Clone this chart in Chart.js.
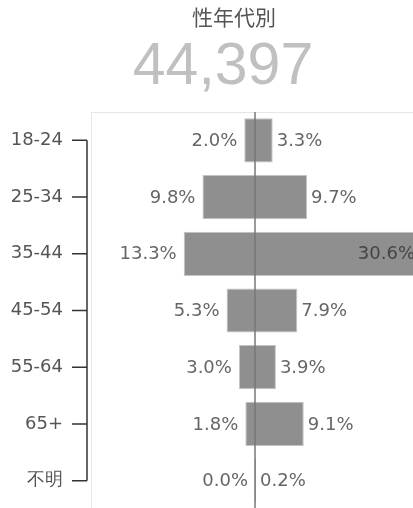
<!DOCTYPE html>
<html lang="ja">
<head>
<meta charset="utf-8">
<script src="https://cdn.jsdelivr.net/npm/chart.js@4"></script>
<style>
  html, body { margin: 0; padding: 0; background: #fff; overflow: hidden; width: 413px; height: 508px; }
  #wrap { position: absolute; left: 0; top: 0; width: 420px; height: 510px; }
  #title { position: absolute; left: 0; top: 6px; width: 468px; text-align: center;
    font-family: "Noto Sans CJK JP"; font-size: 21px; line-height: 21px; color: #555; }
  #total { position: absolute; left: 0; top: 35px; width: 446px; text-align: center;
    font-family: "Liberation Sans"; font-size: 59px; line-height: 59px; color: #c0c0c0; }
</style>
</head>
<body>
<div id="wrap"><canvas id="chartAge" width="420" height="510"></canvas></div>
<div id="title">性年代別</div>
<div id="total"></div>
<script>
// ====== DADOS ======
const ageGroups = ["18-24", "25-34", "35-44", "45-54", "55-64", "65+", "不明"];
const leftShare = [2.0, 9.8, 13.3, 5.3, 3.0, 1.8, 0.0];
const rightShare = [3.3, 9.7, 30.6, 7.9, 3.9, 9.1, 0.2];
const totalCount = 44397;

document.getElementById("total").textContent = totalCount.toLocaleString("en-US");

const maxShare = Math.max(...leftShare, ...rightShare);
const labelFont = '18px "DejaVu Sans"';

// eixo, moldura, linha central e rótulos
const decorPlugin = {
  id: "decor",
  beforeDatasetsDraw(chart) {
    const { ctx, chartArea: a } = chart;
    ctx.save();
    ctx.strokeStyle = "#e6e6e6";
    ctx.lineWidth = 1;
    ctx.strokeRect(a.left + 0.5, a.top + 0.5, a.right - a.left, a.bottom - a.top);
    ctx.restore();
  },
  afterDatasetsDraw(chart) {
    const { ctx, chartArea: a, scales } = chart;
    const x0 = scales.x.getPixelForValue(0);
    ctx.save();

    // linha central
    ctx.strokeStyle = "#777";
    ctx.lineWidth = 1.5;
    ctx.beginPath();
    ctx.moveTo(x0, a.top);
    ctx.lineTo(x0, chart.height);
    ctx.stroke();

    // eixo y
    const y = scales.y;
    const ax = a.left - 4;
    ctx.strokeStyle = "#333";
    ctx.beginPath();
    ctx.moveTo(ax, y.getPixelForTick(0));
    ctx.lineTo(ax, y.getPixelForTick(ageGroups.length - 1));
    ageGroups.forEach((_, i) => {
      const ty = y.getPixelForTick(i);
      ctx.moveTo(ax - 15, ty);
      ctx.lineTo(ax, ty);
    });
    ctx.stroke();

    // rótulos de valor
    ctx.font = labelFont;
    ctx.textBaseline = "middle";
    chart.data.datasets.forEach((ds, di) => {
      const meta = chart.getDatasetMeta(di);
      meta.data.forEach((bar, i) => {
        const v = Math.abs(ds.data[i]);
        const text = v.toFixed(1) + "%";
        const w = ctx.measureText(text).width;
        ctx.fillStyle = "#666";
        if (ds.data[i] <= 0 && di === 0) {
          ctx.textAlign = "right";
          ctx.fillText(text, bar.x - 7, bar.y + 1);
        } else if (bar.x + 4 + w > chart.width) {
          ctx.textAlign = "right";
          ctx.fillStyle = "#444";
          ctx.fillText(text, bar.x - 4, bar.y + 1);
        } else {
          ctx.textAlign = "left";
          ctx.fillText(text, bar.x + 4, bar.y + 1);
        }
      });
    });
    ctx.restore();
  },
};

const ctxAge = document.getElementById("chartAge");
new Chart(ctxAge, {
  type: "bar",
  data: {
    labels: ageGroups,
    datasets: [
      {
        data: leftShare.map((v) => -v),
        backgroundColor: "#8f8f8f",
        borderColor: "#c4c4c4",
        borderWidth: 1,
        barPercentage: 0.78,
        categoryPercentage: 1,
      },
      {
        data: rightShare,
        backgroundColor: "#8f8f8f",
        borderColor: "#c4c4c4",
        borderWidth: 1,
        barPercentage: 0.78,
        categoryPercentage: 1,
      },
    ],
  },
  options: {
    indexAxis: "y",
    responsive: false,
    animation: false,
    layout: { padding: { left: 0, top: 112, right: 1, bottom: 1 } },
    plugins: {
      legend: { display: false },
      tooltip: { enabled: false },
    },
    scales: {
      x: {
        stacked: true,
        display: false,
        min: -maxShare,
        max: maxShare,
      },
      y: {
        stacked: true,
        grid: { display: false, drawTicks: false, tickLength: 0 },
        border: { display: false },
        ticks: {
          color: "#555",
          font: { family: "DejaVu Sans", size: 18 },
          padding: 28,
        },
        afterFit(scale) {
          scale.width = 91;
          scale.paddingTop = 0;
          scale.paddingBottom = 0;
        },
      },
    },
  },
  plugins: [decorPlugin],
});
</script>
</body>
</html>
